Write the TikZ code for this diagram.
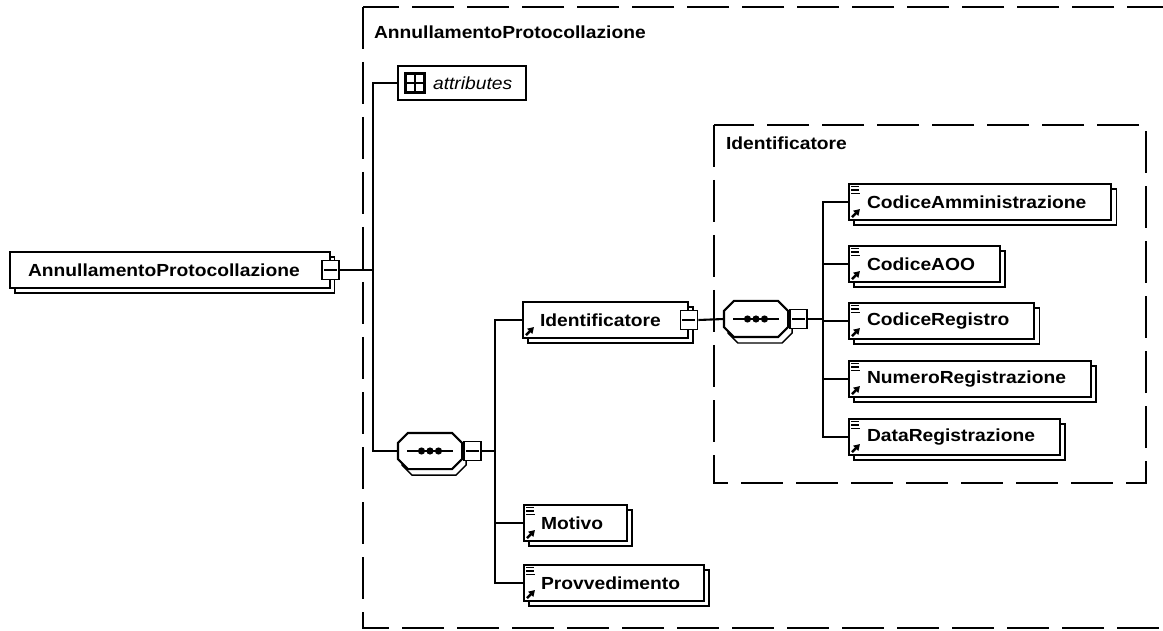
\documentclass[tikz,border=0pt]{standalone}
\usepackage{fontspec}
\usetikzlibrary{shadows,arrows.meta}
\newfontfamily\diagfont[FakeStretch=1.1]{Liberation Sans}
\newcommand\elemfont{\diagfont\bfseries\fontsize{17.5}{20}\selectfont}
\newcommand\attrfont{\diagfont\itshape\fontsize{17.5}{20}\selectfont}

% small "simple content" lines and the reference arrow inside an element box
\newcommand\leafmarks[1]{%
  \draw[line width=1.6pt] ([shift={(3,3.5)}]#1.north west) -- ++(8,0)
                          ([shift={(3,7)}]#1.north west) -- ++(8,0)
                          ([shift={(3,10.5)}]#1.north west) -- ++(9,0);
  \refmark{#1}}
\newcommand\refmark[1]{%
  \draw[line width=2.4pt,-{Triangle[length=6pt,width=7pt]}]
    ([shift={(4,-4)}]#1.south west) -- ++(8,-8);}
% octagonal outline of a compositor, offset by (#2,#3)
\newcommand\octpath[3]{%
  ([xshift=10pt+#2,yshift=#3]#1.north west) --
  ([xshift=-10pt+#2,yshift=#3]#1.north east) --
  ([xshift=#2,yshift=-10pt+#3]#1.north east) --
  ([xshift=#2,yshift=10pt+#3]#1.south east) --
  ([xshift=-10pt+#2,yshift=#3]#1.south east) --
  ([xshift=10pt+#2,yshift=#3]#1.south west) --
  ([xshift=#2,yshift=10pt+#3]#1.south west) --
  ([xshift=#2,yshift=-10pt+#3]#1.north west) -- cycle}
% sequence compositor with its shadow and symbol
\newcommand\seqdraw[1]{%
  \draw[line width=1.4pt, fill=white] \octpath{#1}{4pt}{-6pt};
  \draw[line width=2.1pt, fill=white] \octpath{#1}{0pt}{0pt};
  \draw[line width=1.8pt] ([xshift=-23pt]#1.center) -- ([xshift=23pt]#1.center);
  \foreach \dx in {-8.5,0,8.5}
    \fill ([xshift=\dx pt]#1.center) circle[radius=3.6pt];}

\begin{document}
\begin{tikzpicture}[x=1pt,y=-1pt,line width=2.1pt,
  elem/.style={draw, fill=white, line width=2.1pt, minimum height=36pt,
    inner xsep=0pt, inner ysep=0pt, anchor=west, font=\elemfont,
    copy shadow={shadow xshift=5pt, shadow yshift=-5pt, draw=black,
      line width=1.4pt, fill=white}},
  expander/.style={draw, fill=white, line width=1.9pt, minimum width=17pt,
    minimum height=19pt, inner sep=0pt,
    path picture={\draw[line width=1.8pt]
      ([xshift=2pt]path picture bounding box.west) --
      ([xshift=-2pt]path picture bounding box.east);}},
  seqbox/.style={draw=none, minimum width=62pt, minimum height=34pt,
    inner sep=0pt},
  attrbox/.style={draw, fill=white, line width=2.1pt, minimum height=34pt,
    inner xsep=0pt, inner ysep=0pt, anchor=west, font=\attrfont},
  attricon/.style={draw, line width=2.1pt, minimum width=19pt,
    minimum height=19pt, inner sep=0pt,
    path picture={\draw[line width=1.8pt]
      (path picture bounding box.north) -- (path picture bounding box.south)
      (path picture bounding box.west) -- (path picture bounding box.east);}},
  title/.style={anchor=west, inner sep=0pt, font=\elemfont},
  frame/.style={line width=2pt, dash pattern=on 42pt off 13pt}]

\useasboundingbox (0,0) rectangle (1163,631);
\clip (0,0) rectangle (1163,631);

% type containers
\draw[frame] (363,7) rectangle (1190,628);
\node[title] (outertitle) at (373,32) {AnnullamentoProtocollazione};
\draw[frame] (714,125) rectangle (1146,483);
\node[title] (innertitle) at (725,143) {Identificatore};

% root element
\node[elem] (root) at (9,270) {\hspace*{18pt}AnnullamentoProtocollazione\hspace*{30pt}};
\node[expander] (rootx) at (root.east) {};

% attributes
\node[attrbox] (attr) at (397,83) {\hspace*{35pt}attributes\hspace*{14pt}};
\node[attricon] (attri) at (415,83) {};

% first sequence
\node[seqbox] (seq1) at (430,451) {};
\seqdraw{seq1}
\node[expander, anchor=west] (seq1x) at ([xshift=1pt]seq1.east) {};

% children of the first sequence
\node[elem] (ident) at (522,320) {\hspace*{17pt}Identificatore\hspace*{27pt}};
\refmark{ident}
\node[expander] (identx) at (ident.east) {};
\node[elem] (motivo) at (523,523) {\hspace*{17pt}Motivo\hspace*{24pt}};
\leafmarks{motivo}
\node[elem] (provv) at (523,583) {\hspace*{17pt}Provvedimento\hspace*{24pt}};
\leafmarks{provv}

% second sequence
\node[seqbox] (seq2) at (756,319) {};
\seqdraw{seq2}
\node[expander, anchor=west] (seq2x) at ([xshift=1pt]seq2.east) {};

% children of Identificatore
\node[elem] (c1) at (848,202) {\hspace*{18pt}CodiceAmministrazione\hspace*{25pt}};
\leafmarks{c1}
\node[elem] (c2) at (848,264) {\hspace*{18pt}CodiceAOO\hspace*{25pt}};
\leafmarks{c2}
\node[elem] (c3) at (848,321) {\hspace*{18pt}CodiceRegistro\hspace*{25pt}};
\leafmarks{c3}
\node[elem] (c4) at (848,379) {\hspace*{18pt}NumeroRegistrazione\hspace*{25pt}};
\leafmarks{c4}
\node[elem] (c5) at (848,437) {\hspace*{18pt}DataRegistrazione\hspace*{25pt}};
\leafmarks{c5}

% connectors
\coordinate (b1) at (373,270);
\coordinate (b2) at (495,451);
\coordinate (b3) at (823,319);
\draw (rootx.east) -- (b1);
\draw (attr.west) -| (b1) |- (seq1.west);
\draw (seq1x.east) -- (b2);
\draw (ident.west) -| (b2) |- (provv.west);
\draw (motivo.west) -- (motivo.west -| b2);
\draw (identx.east) -- (seq2.west);
\draw (seq2x.east) -- (b3);
\draw (c1.west) -| (b3) |- (c5.west);
\draw (c2.west) -- (c2.west -| b3);
\draw (c3.west) -- (c3.west -| b3);
\draw (c4.west) -- (c4.west -| b3);
\end{tikzpicture}
\end{document}
